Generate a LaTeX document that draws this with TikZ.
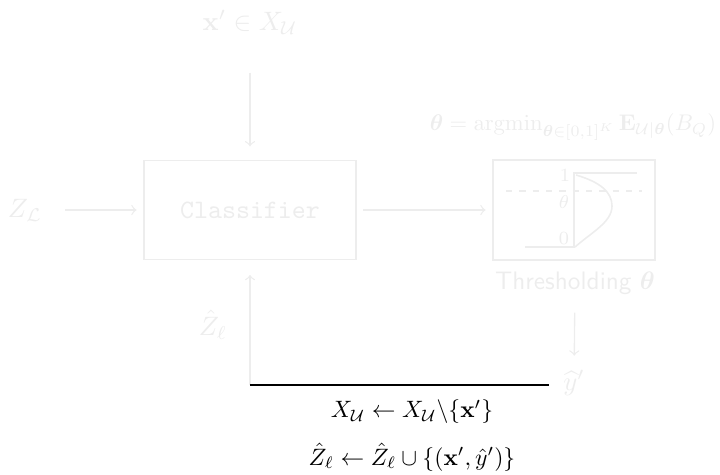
\documentclass[tikz,border=0pt]{standalone}
\usepackage{amsmath,amssymb}
\usepackage{bm}

\begin{document}
\begin{tikzpicture}[
            x=0.0132cm,
            y=-0.0132cm,
            faint/.style={
                text=black!7
            },
            faintbox/.style={
                draw=black!7,
                text=black!7,
                line width=0.5pt
            },
            flow/.style={
                ->,
                draw=black!7,
                line width=0.5pt
            },
            curve/.style={
                draw=black!7,
                line width=0.9pt
            }
        ]
            \useasboundingbox (0,0) rectangle (720,474);

            \node[faint] (xin) at (250,22) {$\mathbf{x}'\in X_{\mathcal{U}}$};
            \node[faint] (zl) at (25,210) {$Z_{\mathcal{L}}$};
            \node[faintbox, font=\ttfamily, minimum width=2.80cm, minimum height=1.31cm] (clf) at (250,210) {Classifier};
            \node[faintbox, minimum width=2.14cm, minimum height=1.32cm] (thr) at (574,210) {};
            \node[faint, scale=0.85] (argmin) at (573,127) {$\bm{\theta} = \operatorname{argmin}_{\bm{\theta}\in[0,1]^K} \mathbf{E}_{\mathcal{U}|\bm{\theta}}(B_Q)$};
            \node[faint, font=\sffamily, scale=0.95] (thrlab) at (575,283) {Thresholding $\bm{\theta}$};
            \node[faint] (yhat) at (574,383) {$\widehat{y}'$};
            \node[faint] (zhat) at (213,325) {$\hat{Z}_\ell$};

            % step inside the thresholding box
            \draw[curve] (525,247) -- (574,247) -- (574,173) -- (637,173);
            \draw[curve, line width=0.6pt] (576,175) .. controls (600,182) and (612,192) .. (612,206)
                .. controls (612,222) and (592,232) .. (575,247);
            \draw[draw=black!7, line width=0.6pt, dash pattern=on 2.4pt off 2.6pt] (506,191) -- (642,191);
            \node[faint, font=\scriptsize] (one) at (565,175) {$1$};
            \node[faint, font=\scriptsize] (th) at (564,202) {$\theta$};
            \node[faint, font=\scriptsize] (zero) at (564,238) {$0$};

            \coordinate (corner) at (250,385);
            \coordinate (lineend) at (549,385);

            \draw[flow, shorten <=11pt, shorten >=5pt] (xin) -- (clf);
            \draw[flow, shorten <=5pt, shorten >=2.5pt] (zl) -- (clf);
            \draw[flow, shorten <=2.5pt, shorten >=2.5pt] (clf) -- (thr);
            \draw[flow, shorten <=3.5pt, shorten >=2pt] (thrlab) -- (yhat);
            \draw[flow, shorten >=5.5pt] (corner) -- (clf);
            \draw[line width=0.6pt] (corner) -- (lineend);

            \node[scale=0.89] (upd1) at (412,412) {$X_{\mathcal{U}} \leftarrow X_{\mathcal{U}}\backslash\{\mathbf{x}'\}$};
            \node[scale=0.89] (upd2) at (412,457) {$\hat{Z}_\ell \leftarrow \hat{Z}_\ell \cup \{(\mathbf{x}',\hat{y}')\}$};
        \end{tikzpicture}
\end{document}
